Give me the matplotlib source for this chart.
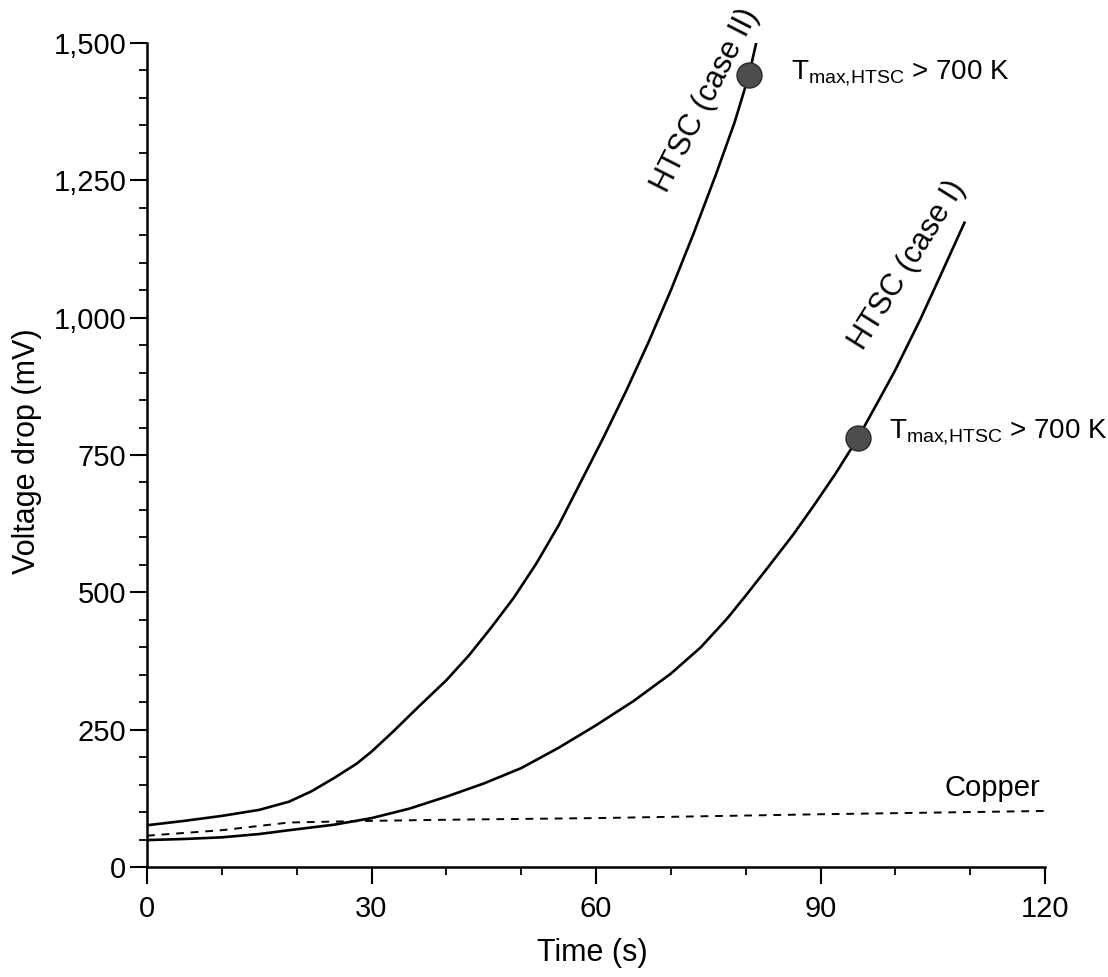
import matplotlib
matplotlib.use("Agg")
import matplotlib.pyplot as plt
from matplotlib.ticker import MultipleLocator, FuncFormatter

plt.rcParams['font.family'] = ['Liberation Sans', 'DejaVu Sans']
plt.rcParams['mathtext.fontset'] = 'custom'
plt.rcParams['mathtext.rm'] = 'Liberation Sans'
plt.rcParams['mathtext.it'] = 'Liberation Sans:italic'

# HTSC case II (upper solid curve)
t_case2 = [0, 5, 10, 15, 19, 22, 25, 28, 30, 33, 36, 40, 43, 46, 49, 52, 55, 58,
           61, 64, 67, 70, 73, 76, 78.5, 80.4, 81.4]
v_case2 = [76, 84, 93, 104, 119, 138, 162, 188, 210, 248, 288, 340, 385, 436, 490, 552, 622, 702,
           782, 866, 955, 1050, 1152, 1260, 1355, 1440, 1500]

# HTSC case I (lower solid curve)
t_case1 = [0, 5, 10, 15, 19, 25, 30, 35, 40, 45, 50, 55, 60, 65, 70, 74, 77.5, 80, 83,
           86.4, 89, 92, 95, 98, 100, 103.3, 106, 109.3]
v_case1 = [49, 51, 54, 60, 67, 77, 89, 106, 128, 152, 180, 217, 258, 302, 352, 400, 452, 494, 546,
           606, 656, 716, 781, 855, 905, 996, 1076, 1175]

# Copper (dashed)
t_copper = [0, 10, 19, 30, 40, 60, 90, 120]
v_copper = [57, 67, 81, 84, 86, 89, 96, 102]

# points where T_max,HTSC > 700 K
t_marks = [80.4, 95.0]
v_marks = [1442, 781]

fig = plt.figure(figsize=(11.08, 9.77), dpi=100)
ax = fig.add_axes([0.1327, 0.1126, 0.8105, 0.8434])

ax.plot(t_case2, v_case2, color='black', lw=1.9, solid_capstyle='butt')
ax.plot(t_case1, v_case1, color='black', lw=1.9, solid_capstyle='butt')
ax.plot(t_copper, v_copper, color='black', lw=1.4, dashes=(4, 3.5))
ax.plot(t_marks, v_marks, 'o', ms=18, color='#4d4d4d', mec='#2a2a2a', mew=1, zorder=5)

# texts
label_700 = r'T$_{\mathrm{max{,}HTSC}}$ > 700 K'
ax.text(86.0, 1445, label_700, fontsize=20, va='center', ha='left')
ax.text(99.1, 792, label_700, fontsize=20, va='center', ha='left', clip_on=False)
ax.text(74.6, 1396, 'HTSC (case II)', fontsize=22, rotation=63, ha='center', va='center',
        rotation_mode='anchor')
ax.text(101.6, 1096, 'HTSC (case I)', fontsize=22, rotation=58, ha='center', va='center',
        rotation_mode='anchor')
ax.text(119.4, 129, 'Copper', fontsize=21, ha='right', va='baseline')

# axes styling
ax.set_xlim(0, 120)
ax.set_ylim(0, 1500)
ax.spines['top'].set_visible(False)
ax.spines['right'].set_visible(False)
for s in ['left', 'bottom']:
    ax.spines[s].set_linewidth(1.8)

ax.xaxis.set_major_locator(MultipleLocator(30))
ax.xaxis.set_minor_locator(MultipleLocator(10))
ax.yaxis.set_major_locator(MultipleLocator(250))
ax.yaxis.set_minor_locator(MultipleLocator(50))
ax.yaxis.set_major_formatter(FuncFormatter(lambda v, p: f'{v:,.0f}'))

ax.tick_params(which='major', length=12, width=1.5, labelsize=21)
ax.tick_params(which='minor', length=6, width=1.3)
ax.tick_params(axis='x', which='major', pad=8)
ax.tick_params(axis='y', which='major', pad=3)

ax.set_xlabel('Time (s)', fontsize=22)
ax.set_ylabel('Voltage drop (mV)', fontsize=22)
ax.xaxis.set_label_coords(0.4955, -0.086)
ax.yaxis.set_label_coords(-0.117, 0.505)

fig.savefig('out.png', dpi=100, facecolor='white')
